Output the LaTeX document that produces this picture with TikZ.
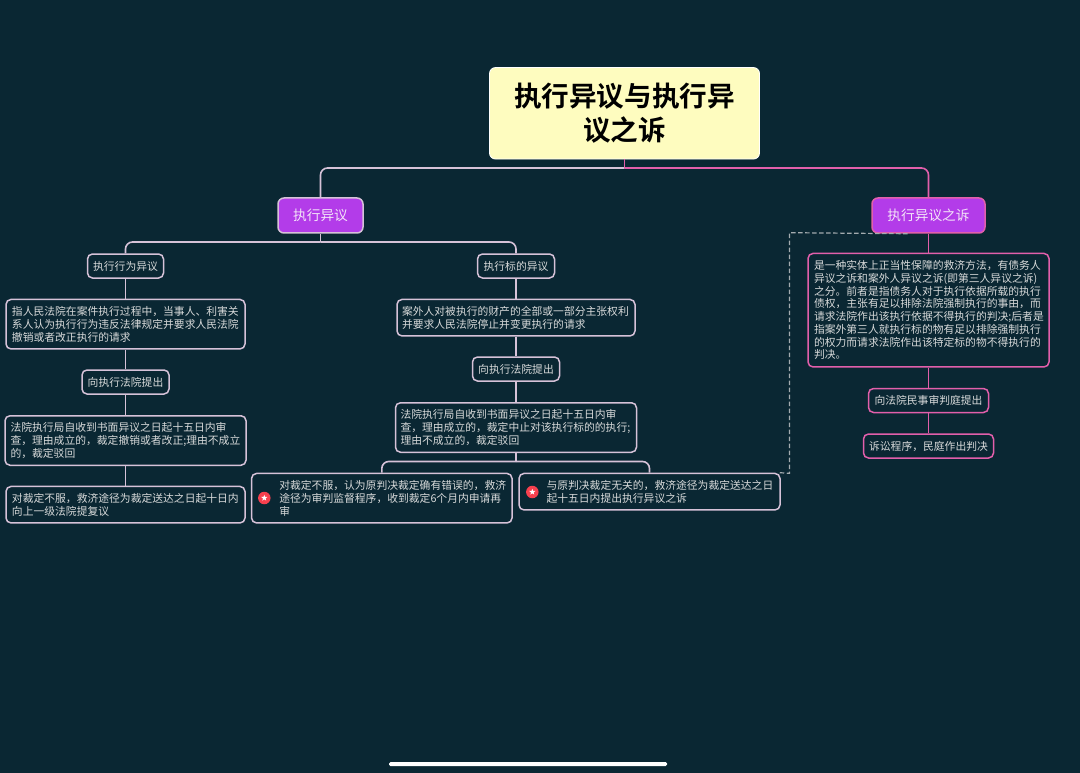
\documentclass[tikz,border=0pt]{standalone}
\usepackage{fontspec}
\setmainfont{Noto Sans CJK SC}
\newfontfamily\cjkbold{Noto Sans CJK SC Bold}
\usetikzlibrary{shapes.geometric}
\definecolor{bgc}{HTML}{0A2733}
\definecolor{lil}{HTML}{D6C2D8}
\definecolor{pnk}{HTML}{E25FAB}
\definecolor{pur}{HTML}{B33CE9}
\definecolor{rootc}{HTML}{FEFCBF}
\definecolor{txt}{HTML}{D8DADA}
\definecolor{ptxt}{HTML}{F3E4F8}
\definecolor{dsh}{HTML}{A3ABAF}
\definecolor{stc}{HTML}{F7404E}
\tikzset{
  x=1pt,y=-1pt,
  basebox/.style={draw,rounded corners=5pt,line width=1.5pt,inner sep=0pt,text=txt,font=\fontsize{10.8}{12.7}\selectfont},
  lilbox/.style={basebox,draw=lil,fill=bgc,align=center},
  pnkbox/.style={basebox,draw=pnk,fill=bgc,align=center},
  purbox/.style={basebox,fill=pur,align=center,rounded corners=6pt,text=ptxt,font=\fontsize{13.7}{16}\selectfont},
  rootbox/.style={draw=white,line width=.8pt,fill=rootc,rounded corners=6pt,inner sep=0pt,align=center,text=black,font=\cjkbold\fontsize{27.6}{33.5}\selectfont},
  lilline/.style={draw=lil,line width=1.6pt,rounded corners=7pt},
  pnkline/.style={draw=pnk,line width=1.6pt,rounded corners=7pt},
  lilstem/.style={draw=lil,line width=1.6pt},
  pnkstem/.style={draw=pnk,line width=1.6pt},
  dashline/.style={draw=dsh,line width=1.2pt,dash pattern=on 4.5pt off 2.5pt},
  badge/.style={circle,fill=stc,draw=none,minimum size=12.5pt,inner sep=0pt},
  badgestar/.style={star,star points=5,star point ratio=2.4,fill=white,minimum size=6.5pt,inner sep=0pt},
}
\newcommand{\bx}[7]{\node[#1,minimum width=#4pt,minimum height=#5pt,text width=#6pt] (#2) at (#3) {#7};}
\begin{document}
\begin{tikzpicture}
\fill[bgc] (0,0) rectangle (1080,773);
\useasboundingbox (0,0) rectangle (1080,773);

\node[rootbox,minimum width=270pt,minimum height=91.5pt,text width=250pt] (root) at (624.5,113.3) {执行异议与执行异\\议之诉};
\coordinate (rb) at (624.5,168);

\bx{purbox,draw=lil}{yi}{320.5,215.5}{85}{35}{70}{执行异议}
\bx{purbox,draw=pnk}{zs}{928.5,215.5}{113}{35}{100}{执行异议之诉}

% left branch
\bx{lilbox}{a0}{125.5,266}{76}{24}{70}{执行行为异议}
\bx{lilbox,align=left}{a1}{125.5,324.2}{239}{49.5}{227}{指人民法院在案件执行过程中，当事人、利害关\\系人认为执行行为违反法律规定并要求人民法院\\撤销或者改正执行的请求}
\bx{lilbox}{a2}{125.5,382}{87}{24}{80}{向执行法院提出}
\bx{lilbox,align=left}{a3}{125.5,440.5}{241}{49.5}{230}{法院执行局自收到书面异议之日起十五日内审\\查，理由成立的，裁定撤销或者改正;理由不成立\\的，裁定驳回}
\bx{lilbox,align=left}{a4}{125.5,504.7}{239}{36.5}{227}{对裁定不服，救济途径为裁定送达之日起十日内\\向上一级法院提复议}

% middle branch
\bx{lilbox}{b0}{516,266}{77}{24}{70}{执行标的异议}
\bx{lilbox,align=left}{b1}{516,317.7}{238}{36.5}{228}{案外人对被执行的财产的全部或一部分主张权利\\并要求人民法院停止并变更执行的请求}
\bx{lilbox}{b2}{516,369}{87}{24}{80}{向执行法院提出}
\bx{lilbox,align=left}{b3}{516,427.5}{241}{49.5}{231}{法院执行局自收到书面异议之日起十五日内审\\查，理由成立的，裁定中止对该执行标的的执行;\\理由不成立的，裁定驳回}
\coordinate (bb) at (516,461.5);
\bx{lilbox,align=left}{c1}{381.8,498.2}{260.5}{49.5}{248}{\hspace*{21.5pt}对裁定不服，认为原判决裁定确有错误的，救济\\\hspace*{21.5pt}途径为审判监督程序，收到裁定6个月内申请再\\\hspace*{21.5pt}审}
\bx{lilbox,align=left}{c2}{649.5,491.7}{261}{36.5}{249}{\hspace*{21.5pt}与原判决裁定无关的，救济途径为裁定送达之日\\\hspace*{21.5pt}起十五日内提出执行异议之诉}
\node[badge] (s1) at (264.3,498) {};
\node[badgestar] (s1s) at (264.3,498) {};
\node[badge] (s2) at (532.3,492) {};
\node[badgestar] (s2s) at (532.3,492) {};

% right branch
\bx{pnkbox,align=left}{d1}{928.5,310.2}{241}{113.5}{229}{是一种实体上正当性保障的救济方法，有债务人\\异议之诉和案外人异议之诉(即第三人异议之诉)\\之分。前者是指债务人对于执行依据所载的执行\\债权，主张有足以排除法院强制执行的事由，而\\请求法院作出该执行依据不得执行的判决;后者是\\指案外第三人就执行标的物有足以排除强制执行\\的权力而请求法院作出该特定标的物不得执行的\\判决。}
\bx{pnkbox}{d2}{928.5,400.5}{120}{24}{112}{向法院民事审判庭提出}
\bx{pnkbox}{d3}{928.5,446}{130}{24}{120}{诉讼程序，民庭作出判决}

% home indicator
\fill[white,rounded corners=1.5pt] (389,762) rectangle (667,766);

% connectors
\coordinate (ab) at (320.5,242);
\draw[lilline] (rb) -| (yi.north);
\draw[pnkline] (rb) -| (zs.north);
\draw[pnkstem] (root.south) -- (rb);
\draw[lilstem] (yi.south) -- (ab);
\draw[lilline] (ab) -| (a0.north);
\draw[lilline] (ab) -| (b0.north);
\draw[lilstem] (a0.south) -- (a1.north);
\draw[lilstem] (a1.south) -- (a2.north);
\draw[lilstem] (a2.south) -- (a3.north);
\draw[lilstem] (a3.south) -- (a4.north);
\draw[lilstem] (b0.south) -- (b1.north);
\draw[lilstem] (b1.south) -- (b2.north);
\draw[lilstem] (b2.south) -- (b3.north);
\draw[lilstem] (b3.south) -- (bb);
\draw[lilline] (bb) -| (c1.north);
\draw[lilline] (bb) -| (c2.north);
\draw[pnkstem] (zs.south) -- (d1.north);
\draw[pnkstem] (d1.south) -- (d2.north);
\draw[pnkstem] (d2.south) -- (d3.north);
\coordinate (dk) at (789.5,232.7);
\draw[dashline] (c2.north east) ++(-1,0) -- (789.5,473.3) -- (dk) -- ([xshift=-18.5pt]zs.south);
\end{tikzpicture}
\end{document}
